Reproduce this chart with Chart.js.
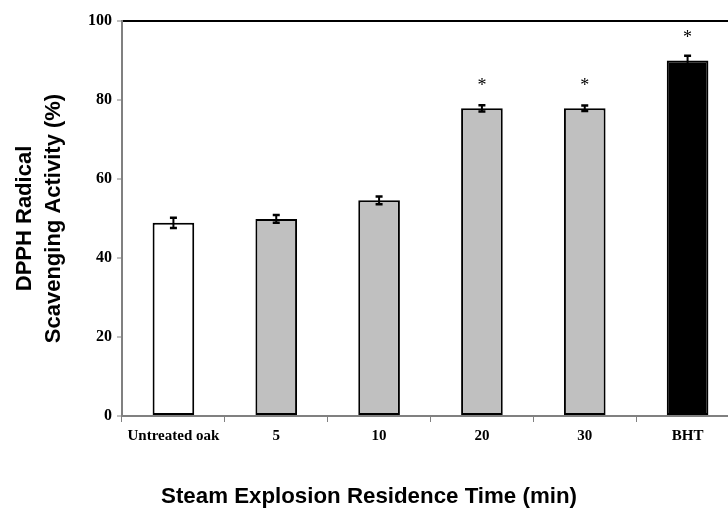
<!DOCTYPE html>
<html>
<head>
<meta charset="utf-8">
<script src="https://cdn.jsdelivr.net/npm/chart.js@4"></script>
<style>
  html, body { margin: 0; padding: 0; background: #fff; overflow: hidden; }
  #wrap { width: 728px; height: 514px; overflow: hidden; }
</style>
</head>
<body>
<div id="wrap"><canvas id="chart" width="750" height="514"></canvas></div>
<script>
(() => {
  'use strict'

  const categories = ['Untreated oak', '5', '10', '20', '30', 'BHT'];
  const activity = [48.9, 49.9, 54.6, 77.9, 77.9, 90.0];
  const errors = [1.3, 1.0, 1.0, 0.8, 0.7, 1.2];
  const significant = [false, false, false, true, true, true];
  const fills = ['#ffffff', '#c0c0c0', '#c0c0c0', '#c0c0c0', '#c0c0c0', '#000000'];

  const serif = '"Liberation Serif", "Times New Roman", serif';
  const sans = '"Liberation Sans", Arial, sans-serif';

  // error bars and significance stars on top of each bar
  const barExtras = {
    id: 'barExtras',
    afterDatasetsDraw(chart) {
      const ctx = chart.ctx;
      const yScale = chart.scales.y;
      const meta = chart.getDatasetMeta(0);
      ctx.save();
      ctx.strokeStyle = '#000';
      meta.data.forEach((bar, i) => {
        const top = yScale.getPixelForValue(activity[i] + errors[i]);
        const bot = yScale.getPixelForValue(activity[i] - errors[i]);
        ctx.lineWidth = 2;
        ctx.beginPath();
        ctx.moveTo(bar.x, top);
        ctx.lineTo(bar.x, bot);
        ctx.stroke();
        ctx.lineWidth = 2.5;
        ctx.beginPath();
        ctx.moveTo(bar.x - 3.5, top);
        ctx.lineTo(bar.x + 3.5, top);
        ctx.moveTo(bar.x - 3.5, bot);
        ctx.lineTo(bar.x + 3.5, bot);
        ctx.stroke();
        if (significant[i]) {
          ctx.fillStyle = '#000';
          ctx.font = '18px ' + serif;
          ctx.textAlign = 'center';
          ctx.textBaseline = 'middle';
          ctx.fillText('*', bar.x, yScale.getPixelForValue(activity[i]) - 22);
        }
      });
      ctx.restore();
    }
  };

  const xTitle = {
    id: 'xTitle',
    afterDraw(chart) {
      const ctx = chart.ctx;
      ctx.save();
      ctx.fillStyle = '#000';
      ctx.font = 'bold 22.3px ' + sans;
      ctx.textAlign = 'center';
      ctx.textBaseline = 'middle';
      ctx.fillText('Steam Explosion Residence Time (min)', 369, 497);
      ctx.restore();
    }
  };

  new Chart(document.getElementById('chart'), {
    type: 'bar',
    data: {
      labels: categories,
      datasets: [{
        data: activity,
        backgroundColor: fills,
        borderColor: '#000',
        borderWidth: 2,
        borderSkipped: false,
        barPercentage: 0.405,
        categoryPercentage: 1
      }]
    },
    options: {
      responsive: false,
      animation: false,
      layout: { padding: { top: 21, right: 11, bottom: 0, left: 0 } },
      plugins: {
        legend: { display: false },
        tooltip: { enabled: false }
      },
      scales: {
        x: {
          offset: true,
          afterFit: scale => { scale.height = 98 },
          grid: {
            offset: true,
            drawOnChartArea: false,
            tickLength: 6,
            tickColor: '#808080',
            tickWidth: 1
          },
          border: { color: '#808080', width: 2 },
          ticks: {
            color: '#000',
            padding: 5,
            maxRotation: 0,
            font: { family: serif, size: 15, weight: 'bold' }
          }
        },
        y: {
          min: 0,
          max: 100,
          afterFit: scale => { scale.width = 122 },
          grid: {
            color: c => (c.tick && c.tick.value === 100 ? '#000' : 'rgba(0,0,0,0)'),
            lineWidth: 2,
            tickLength: 5,
            tickColor: '#808080',
            tickWidth: 1
          },
          border: { color: '#808080', width: 2 },
          ticks: {
            stepSize: 20,
            color: '#000',
            padding: 5,
            font: { family: serif, size: 16, weight: 'bold' }
          },
          title: {
            display: true,
            text: ['DPPH Radical', 'Scavenging Activity (%)'],
            color: '#000',
            padding: { top: 10, bottom: 0 },
            font: { family: sans, size: 22, weight: 'bold', lineHeight: 1.32 }
          }
        }
      }
    },
    plugins: [barExtras, xTitle]
  })
})()
</script>
</body>
</html>
